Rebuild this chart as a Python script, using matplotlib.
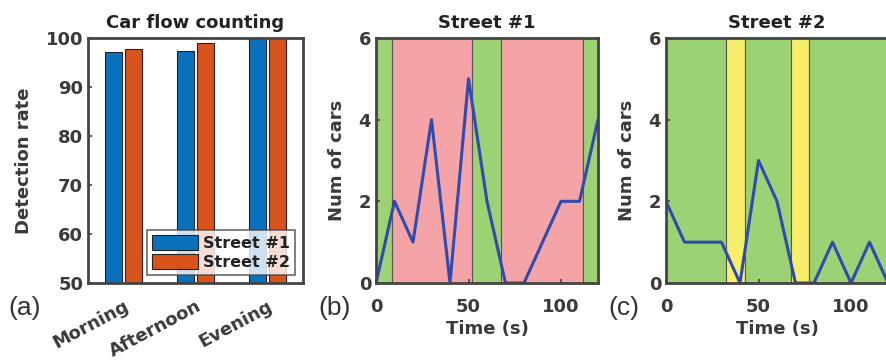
import matplotlib.pyplot as plt
import numpy as np

plt.rcParams['font.family'] = ['DejaVu Sans']

# Datos panel (a)
periods = ['Morning', 'Afternoon', 'Evening']
rate_street1 = [97.1, 97.4, 100.0]
rate_street2 = [97.8, 99.0, 100.0]

# Datos panel (b)
t1 = [0, 10, 20, 30, 40, 50, 60, 70, 80, 90, 100, 110, 120]
cars1 = [0, 2, 1, 4, 0, 5, 2, 0, 0, 1, 2, 2, 4]
# (inicio, fin, estado) de los tramos del semaforo
lights1 = [(0, 8.5, 'g'), (8.5, 52, 'r'), (52, 67.5, 'g'), (67.5, 112, 'r'), (112, 120, 'g')]

# Datos panel (c)
t2 = [0, 10, 20, 30, 40, 50, 60, 70, 80, 90, 100, 110, 120]
cars2 = [2, 1, 1, 1, 0, 3, 2, 0, 0, 1, 0, 1, 0]
lights2 = [(0, 32.5, 'g'), (32.5, 42.5, 'y'), (42.5, 67.5, 'g'), (67.5, 77.5, 'y'), (77.5, 120, 'g')]

light_colors = {'g': '#9dd274', 'r': '#f4a4a7', 'y': '#f7ef6c'}
txt = '#3a3a3a'
FS = 13
W, H = 886, 361

fig = plt.figure(figsize=(W/100, H/100), dpi=100)

def pos(x0, y0, x1, y1):
    return [x0/W, 1 - y1/H, (x1-x0)/W, (y1-y0)/H]

def style(ax):
    for s in ax.spines.values():
        s.set_linewidth(2)
        s.set_color('#444444')
    ax.tick_params(direction='in', width=1.2, length=3, colors='#444444',
                   labelsize=FS, labelcolor=txt)
    for lb in ax.get_xticklabels() + ax.get_yticklabels():
        lb.set_fontweight('bold')

def letter(x, y, s):
    fig.text(x/W, 1-y/H, s, fontsize=19, color='#333333', va='center',
             family=['Liberation Sans', 'DejaVu Sans'])

# Panel (a)
ax = fig.add_axes(pos(88, 38, 303, 283))
x = np.arange(1, 4)
ax.bar(x-0.14, rate_street1, 0.235, color='#0a72bd', edgecolor='#222222', linewidth=0.8, label='Street #1')
ax.bar(x+0.14, rate_street2, 0.235, color='#d9541c', edgecolor='#222222', linewidth=0.8, label='Street #2')
ax.set_xlim(0.5, 3.5)
ax.set_ylim(50, 100)
ax.set_yticks([50, 60, 70, 80, 90, 100])
ax.set_xticks(x)
ax.set_xticklabels(periods, rotation=28, ha='right', rotation_mode='anchor')
ax.set_ylabel('Detection rate', fontsize=FS, fontweight='bold', color=txt, labelpad=9)
ax.set_title('Car flow counting', fontsize=FS, fontweight='bold', color='#222222', pad=7)
style(ax)
ax.tick_params(axis='x', length=0, pad=10)
leg = ax.legend(loc='lower right', fontsize=11.5, frameon=True, fancybox=False,
                borderpad=0.3, handlelength=2.9, handleheight=1.1, labelspacing=0.2,
                handletextpad=0.3, borderaxespad=0.5)
leg.get_frame().set_edgecolor('#444444')
leg.get_frame().set_linewidth(1.2)
for tx in leg.get_texts():
    tx.set_fontweight('bold')
    tx.set_color('#222222')
letter(8, 308, '(a)')

# Panels (b) y (c)
def street(x0, x1, t, cars, lights, title, lab):
    ax = fig.add_axes(pos(x0, 38, x1, 283))
    for a, b, c in lights:
        ax.axvspan(a, b, facecolor=light_colors[c], edgecolor='#555555', linewidth=0.8, zorder=0)
    ax.plot(t, cars, color='#2f4bb0', linewidth=2.2, zorder=2)
    ax.set_xlim(0, 120)
    ax.set_ylim(0, 6)
    ax.set_yticks([0, 2, 4, 6])
    ax.set_xticks([0, 50, 100])
    ax.set_xlabel('Time (s)', fontsize=FS, fontweight='bold', color=txt, labelpad=3)
    ax.set_ylabel('Num of cars', fontsize=FS, fontweight='bold', color=txt, labelpad=9)
    ax.set_title(title, fontsize=FS, fontweight='bold', color='#222222', pad=7)
    style(ax)
    ax.tick_params(axis='x', pad=11)
    letter(x0-58, 308, lab)
    return ax

street(376, 598, t1, cars1, lights1, 'Street #1', '(b)')
street(666, 888, t2, cars2, lights2, 'Street #2', '(c)')

fig.savefig('out.png', dpi=100)
